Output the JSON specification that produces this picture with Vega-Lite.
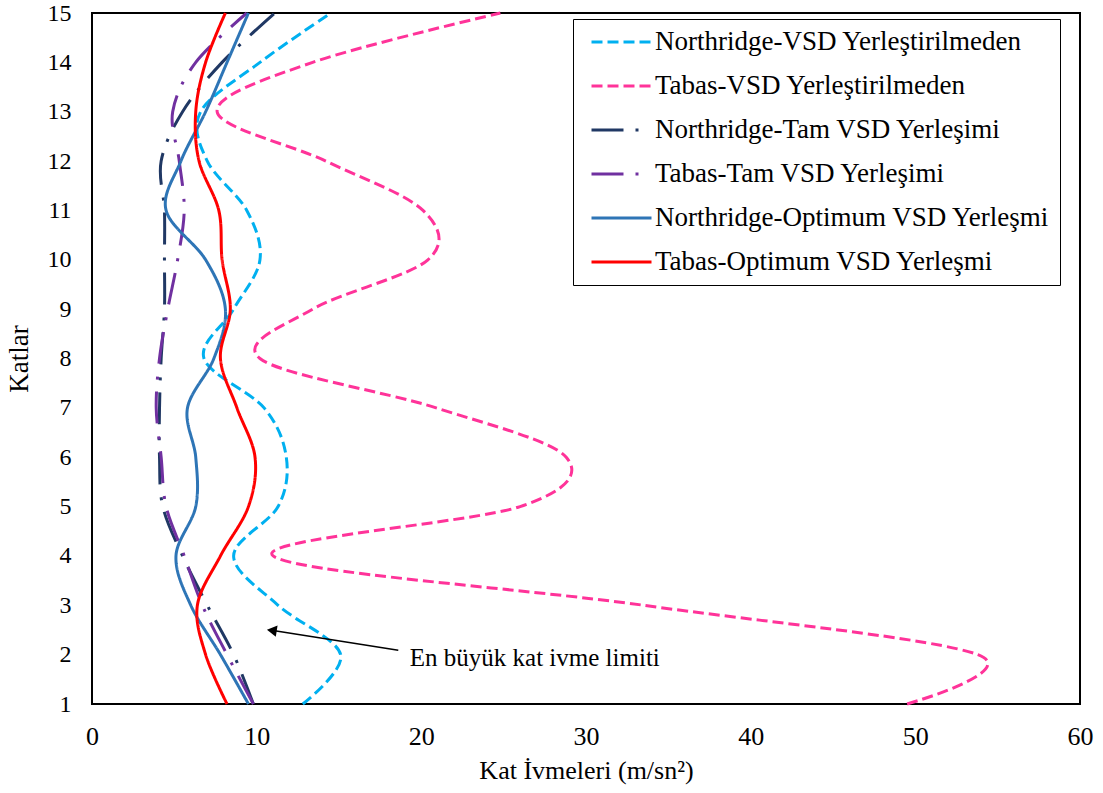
{
  "$schema": "https://vega.github.io/schema/vega-lite/v6.json",
  "width": 988,
  "height": 691,
  "autosize": "none",
  "padding": {"left": 92, "top": 13, "right": 23, "bottom": 89},
  "background": "white",
  "config": {
    "font": "Liberation Serif",
    "view": {"stroke": "black", "strokeWidth": 2},
    "axis": {"labelFont": "Liberation Serif", "titleFont": "Liberation Serif", "labelColor": "black", "titleColor": "black", "titleFontWeight": "normal", "grid": false, "ticks": false, "domain": false, "labelFlush": false},
    "legend": {"orient": "none", "legendX": 481, "legendY": 6, "padding": 10, "strokeColor": "black", "strokeWidth": 1, "fillColor": "white", "labelFont": "Liberation Serif", "labelFontSize": 27, "labelColor": "black", "labelLimit": 500, "symbolType": "stroke", "symbolSize": 3600, "symbolStrokeWidth": 3, "clipHeight": 26, "rowPadding": 17, "symbolOffset": 7, "labelOffset": 2}
  },
  "datasets": {
    "series": [
      {"s": "Northridge-VSD Yerleştirilmeden", "kat": 1, "a": 12.8},
      {"s": "Northridge-VSD Yerleştirilmeden", "kat": 2, "a": 15.1},
      {"s": "Northridge-VSD Yerleştirilmeden", "kat": 3, "a": 11.3},
      {"s": "Northridge-VSD Yerleştirilmeden", "kat": 4, "a": 8.6},
      {"s": "Northridge-VSD Yerleştirilmeden", "kat": 5, "a": 11.3},
      {"s": "Northridge-VSD Yerleştirilmeden", "kat": 6, "a": 11.8},
      {"s": "Northridge-VSD Yerleştirilmeden", "kat": 7, "a": 10.45},
      {"s": "Northridge-VSD Yerleştirilmeden", "kat": 8, "a": 6.8},
      {"s": "Northridge-VSD Yerleştirilmeden", "kat": 9, "a": 8.6},
      {"s": "Northridge-VSD Yerleştirilmeden", "kat": 10, "a": 10.2},
      {"s": "Northridge-VSD Yerleştirilmeden", "kat": 11, "a": 9.4},
      {"s": "Northridge-VSD Yerleştirilmeden", "kat": 12, "a": 7.0},
      {"s": "Northridge-VSD Yerleştirilmeden", "kat": 13, "a": 6.6},
      {"s": "Northridge-VSD Yerleştirilmeden", "kat": 14, "a": 10.2},
      {"s": "Northridge-VSD Yerleştirilmeden", "kat": 15, "a": 14.5},
      {"s": "Tabas-VSD Yerleştirilmeden", "kat": 1, "a": 49.5},
      {"s": "Tabas-VSD Yerleştirilmeden", "kat": 2, "a": 53.8},
      {"s": "Tabas-VSD Yerleştirilmeden", "kat": 3, "a": 33.5},
      {"s": "Tabas-VSD Yerleştirilmeden", "kat": 4, "a": 11.0},
      {"s": "Tabas-VSD Yerleştirilmeden", "kat": 5, "a": 26.0},
      {"s": "Tabas-VSD Yerleştirilmeden", "kat": 6, "a": 28.8},
      {"s": "Tabas-VSD Yerleştirilmeden", "kat": 7, "a": 20.9},
      {"s": "Tabas-VSD Yerleştirilmeden", "kat": 8, "a": 10.2},
      {"s": "Tabas-VSD Yerleştirilmeden", "kat": 9, "a": 13.4},
      {"s": "Tabas-VSD Yerleştirilmeden", "kat": 10, "a": 20.4},
      {"s": "Tabas-VSD Yerleştirilmeden", "kat": 11, "a": 20.1},
      {"s": "Tabas-VSD Yerleştirilmeden", "kat": 12, "a": 14.2},
      {"s": "Tabas-VSD Yerleştirilmeden", "kat": 13, "a": 7.6},
      {"s": "Tabas-VSD Yerleştirilmeden", "kat": 14, "a": 13.4},
      {"s": "Tabas-VSD Yerleştirilmeden", "kat": 15, "a": 24.8},
      {"s": "Northridge-Tam VSD Yerleşimi", "kat": 1, "a": 9.8},
      {"s": "Northridge-Tam VSD Yerleşimi", "kat": 2, "a": 8.6},
      {"s": "Northridge-Tam VSD Yerleşimi", "kat": 3, "a": 7.0},
      {"s": "Northridge-Tam VSD Yerleşimi", "kat": 4, "a": 5.5},
      {"s": "Northridge-Tam VSD Yerleşimi", "kat": 5, "a": 4.3},
      {"s": "Northridge-Tam VSD Yerleşimi", "kat": 6, "a": 4.1},
      {"s": "Northridge-Tam VSD Yerleşimi", "kat": 7, "a": 4.1},
      {"s": "Northridge-Tam VSD Yerleşimi", "kat": 8, "a": 4.2},
      {"s": "Northridge-Tam VSD Yerleşimi", "kat": 9, "a": 4.4},
      {"s": "Northridge-Tam VSD Yerleşimi", "kat": 10, "a": 4.4},
      {"s": "Northridge-Tam VSD Yerleşimi", "kat": 11, "a": 4.4},
      {"s": "Northridge-Tam VSD Yerleşimi", "kat": 12, "a": 4.2},
      {"s": "Northridge-Tam VSD Yerleşimi", "kat": 13, "a": 5.5},
      {"s": "Northridge-Tam VSD Yerleşimi", "kat": 14, "a": 7.9},
      {"s": "Northridge-Tam VSD Yerleşimi", "kat": 15, "a": 11.1},
      {"s": "Tabas-Tam VSD Yerleşimi", "kat": 1, "a": 9.8},
      {"s": "Tabas-Tam VSD Yerleşimi", "kat": 2, "a": 8.2},
      {"s": "Tabas-Tam VSD Yerleşimi", "kat": 3, "a": 6.7},
      {"s": "Tabas-Tam VSD Yerleşimi", "kat": 4, "a": 5.6},
      {"s": "Tabas-Tam VSD Yerleşimi", "kat": 5, "a": 4.5},
      {"s": "Tabas-Tam VSD Yerleşimi", "kat": 6, "a": 4.2},
      {"s": "Tabas-Tam VSD Yerleşimi", "kat": 7, "a": 3.9},
      {"s": "Tabas-Tam VSD Yerleşimi", "kat": 8, "a": 4.1},
      {"s": "Tabas-Tam VSD Yerleşimi", "kat": 9, "a": 4.6},
      {"s": "Tabas-Tam VSD Yerleşimi", "kat": 10, "a": 5.2},
      {"s": "Tabas-Tam VSD Yerleşimi", "kat": 11, "a": 5.6},
      {"s": "Tabas-Tam VSD Yerleşimi", "kat": 12, "a": 5.3},
      {"s": "Tabas-Tam VSD Yerleşimi", "kat": 13, "a": 4.9},
      {"s": "Tabas-Tam VSD Yerleşimi", "kat": 14, "a": 6.3},
      {"s": "Tabas-Tam VSD Yerleşimi", "kat": 15, "a": 9.4},
      {"s": "Northridge-Optimum VSD Yerleşmi", "kat": 1, "a": 9.5},
      {"s": "Northridge-Optimum VSD Yerleşmi", "kat": 2, "a": 7.8},
      {"s": "Northridge-Optimum VSD Yerleşmi", "kat": 3, "a": 6.0},
      {"s": "Northridge-Optimum VSD Yerleşmi", "kat": 4, "a": 5.1},
      {"s": "Northridge-Optimum VSD Yerleşmi", "kat": 5, "a": 6.3},
      {"s": "Northridge-Optimum VSD Yerleşmi", "kat": 6, "a": 6.3},
      {"s": "Northridge-Optimum VSD Yerleşmi", "kat": 7, "a": 5.8},
      {"s": "Northridge-Optimum VSD Yerleşmi", "kat": 8, "a": 7.4},
      {"s": "Northridge-Optimum VSD Yerleşmi", "kat": 9, "a": 8.1},
      {"s": "Northridge-Optimum VSD Yerleşmi", "kat": 10, "a": 6.9},
      {"s": "Northridge-Optimum VSD Yerleşmi", "kat": 11, "a": 4.5},
      {"s": "Northridge-Optimum VSD Yerleşmi", "kat": 12, "a": 5.4},
      {"s": "Northridge-Optimum VSD Yerleşmi", "kat": 13, "a": 6.9},
      {"s": "Northridge-Optimum VSD Yerleşmi", "kat": 14, "a": 8.2},
      {"s": "Northridge-Optimum VSD Yerleşmi", "kat": 15, "a": 9.5},
      {"s": "Tabas-Optimum VSD Yerleşmi", "kat": 1, "a": 8.2},
      {"s": "Tabas-Optimum VSD Yerleşmi", "kat": 2, "a": 6.9},
      {"s": "Tabas-Optimum VSD Yerleşmi", "kat": 3, "a": 6.4},
      {"s": "Tabas-Optimum VSD Yerleşmi", "kat": 4, "a": 7.8},
      {"s": "Tabas-Optimum VSD Yerleşmi", "kat": 5, "a": 9.5},
      {"s": "Tabas-Optimum VSD Yerleşmi", "kat": 6, "a": 9.9},
      {"s": "Tabas-Optimum VSD Yerleşmi", "kat": 7, "a": 8.8},
      {"s": "Tabas-Optimum VSD Yerleşmi", "kat": 8, "a": 7.8},
      {"s": "Tabas-Optimum VSD Yerleşmi", "kat": 9, "a": 8.4},
      {"s": "Tabas-Optimum VSD Yerleşmi", "kat": 10, "a": 7.9},
      {"s": "Tabas-Optimum VSD Yerleşmi", "kat": 11, "a": 7.7},
      {"s": "Tabas-Optimum VSD Yerleşmi", "kat": 12, "a": 6.5},
      {"s": "Tabas-Optimum VSD Yerleşmi", "kat": 13, "a": 6.3},
      {"s": "Tabas-Optimum VSD Yerleşmi", "kat": 14, "a": 6.9},
      {"s": "Tabas-Optimum VSD Yerleşmi", "kat": 15, "a": 8.1}
    ],
    "arrow": [
      {"a": 18.6, "kat": 2.09},
      {"a": 11.0, "kat": 2.49}
    ],
    "head": [
      {"a": 10.92, "kat": 2.49}
    ],
    "note": [
      {"a": 19.3, "kat": 1.93, "t": "En büyük kat ivme limiti"}
    ]
  },
  "layer": [
    {
      "data": {"name": "series"},
      "mark": {"type": "line", "interpolate": "cardinal", "strokeWidth": 3, "strokeCap": "butt"},
      "encoding": {
        "x": {"field": "a", "type": "quantitative", "scale": {"domain": [0, 60], "nice": false, "zero": false},
          "axis": {"values": [0, 10, 20, 30, 40, 50, 60], "title": "Kat İvmeleri (m/sn²)", "labelFontSize": 26, "titleFontSize": 26, "labelPadding": 19, "titlePadding": 8}},
        "y": {"field": "kat", "type": "quantitative", "scale": {"domain": [1, 15], "nice": false, "zero": false},
          "axis": {"values": [1, 2, 3, 4, 5, 6, 7, 8, 9, 10, 11, 12, 13, 14, 15], "title": "Katlar", "labelFontSize": 24, "titleFontSize": 27, "labelPadding": 21, "titlePadding": 14}},
        "order": {"field": "kat", "type": "quantitative"},
        "color": {"field": "s", "type": "nominal",
          "scale": {"domain": ["Northridge-VSD Yerleştirilmeden", "Tabas-VSD Yerleştirilmeden", "Northridge-Tam VSD Yerleşimi", "Tabas-Tam VSD Yerleşimi", "Northridge-Optimum VSD Yerleşmi", "Tabas-Optimum VSD Yerleşmi"],
            "range": ["#00B0F0", "#FF3399", "#203864", "#7030A0", "#2E75B6", "#FF0000"]},
          "legend": {"title": null}},
        "strokeDash": {"field": "s", "type": "nominal",
          "scale": {"domain": ["Northridge-VSD Yerleştirilmeden", "Tabas-VSD Yerleştirilmeden", "Northridge-Tam VSD Yerleşimi", "Tabas-Tam VSD Yerleşimi", "Northridge-Optimum VSD Yerleşmi", "Tabas-Optimum VSD Yerleşmi"],
            "range": [[11, 5], [11, 5], [32, 12, 3, 13], [32, 12, 3, 13], [1, 0], [1, 0]]},
          "legend": {"title": null}}
      }
    },
    {
      "mark": {"type": "rule", "color": "#FF5050", "strokeWidth": 3.5, "strokeDash": [0.1, 9.4], "strokeCap": "round"},
      "encoding": {"x": {"datum": 10, "type": "quantitative"}}
    },
    {
      "data": {"name": "arrow"},
      "mark": {"type": "line", "color": "black", "strokeWidth": 1.5},
      "encoding": {
        "x": {"field": "a", "type": "quantitative"},
        "y": {"field": "kat", "type": "quantitative"}
      }
    },
    {
      "data": {"name": "head"},
      "mark": {"type": "point", "shape": "triangle-left", "filled": true, "color": "black", "opacity": 1, "size": 130, "angle": 9},
      "encoding": {
        "x": {"field": "a", "type": "quantitative"},
        "y": {"field": "kat", "type": "quantitative"}
      }
    },
    {
      "data": {"name": "note"},
      "mark": {"type": "text", "align": "left", "baseline": "middle", "fontSize": 25, "font": "Liberation Serif", "color": "black"},
      "encoding": {
        "x": {"field": "a", "type": "quantitative"},
        "y": {"field": "kat", "type": "quantitative"},
        "text": {"field": "t"}
      }
    }
  ]
}
